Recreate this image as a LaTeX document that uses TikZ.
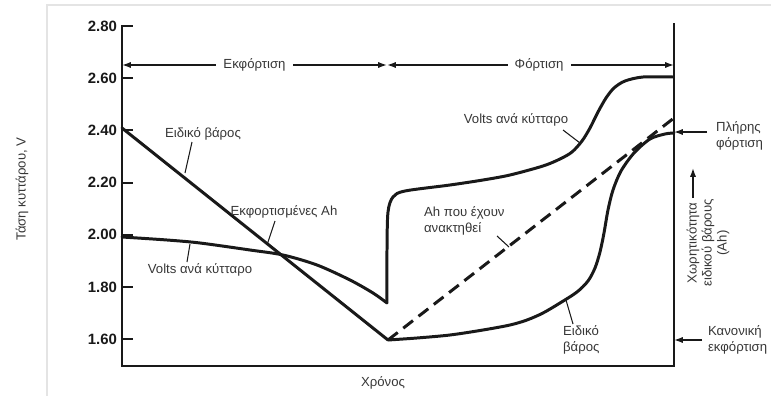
\documentclass[tikz,border=0pt]{standalone}
\usepackage{fontspec}
\setmainfont{Liberation Sans}
\usetikzlibrary{arrows.meta,calc}
\definecolor{ink}{RGB}{25,25,25}
\definecolor{labelgray}{RGB}{55,55,55}
\definecolor{framegray}{RGB}{228,228,228}

\begin{document}
\begin{tikzpicture}[x=0.2mm,y=-0.2mm,font=\fontsize{7.5}{9.5}\selectfont,
  axis/.style={draw=ink,line width=1.1pt},
  curve/.style={draw=ink,line width=1.7pt,line cap=round,line join=round},
  leader/.style={draw=ink,line width=0.6pt},
  ticklbl/.style={font=\fontsize{8.5}{9}\selectfont\bfseries,text=ink,anchor=east,inner sep=1pt},
  lbl/.style={text=labelgray,inner sep=1pt,align=left},
  span/.style={draw=ink,line width=0.8pt,{Latex[length=5pt,width=3.5pt]}-{Latex[length=5pt,width=3.5pt]}},
  pointer/.style={draw=ink,line width=0.8pt,-{Latex[length=5pt,width=3.5pt]}}]

\useasboundingbox (0,0) rectangle (771,396);
\draw[framegray,line width=0.8pt] (47,396) -- (47,5) -- (771,5);

% axes and ticks
\draw[axis] (122,25) -- (122,366) -- (674,366) -- (674,23);
\foreach \v [count=\i from 0] in {2.80,2.60,2.40,2.20,2.00,1.80,1.60} {
  \draw[axis] (122,26+52.2*\i) -- (133,26+52.2*\i);
  \node[ticklbl] (t\i) at (119,26+52.2*\i) {\v};
}
\node[lbl,rotate=90] (ylab) at (22,189) {Τάση κυττάρου, V};
\node[lbl] (xlab) at (383,383) {Χρόνος};

% discharge / charge spans
\coordinate (dL) at (122,65);
\coordinate (sw) at (387,65);
\coordinate (cR) at (674,65);
\draw[span] (dL) -- node[fill=white,inner xsep=4pt,text=labelgray] (dis) {Εκφόρτιση} (sw);
\draw[span] (sw) -- node[pos=0.53,fill=white,inner xsep=4pt,text=labelgray] (chg) {Φόρτιση} (cR);

% specific gravity
\draw[curve] (122,128) -- (388,340);
\draw[curve] plot[smooth] coordinates {(388,340) (417,338) (450,335) (483,330) (510,325)
  (527,320) (543,313) (560,303) (577,292) (588,281) (595,268) (600,252) (604,233)
  (608,210) (613,190) (621,171) (634,153) (650,139) (665,134) (674,133)};

% volts per cell
\draw[curve] plot[smooth] coordinates {(122,237) (167,240) (200,243) (250,250) (283,255)
  (317,265) (350,280) (373,293) (387,303)};
\draw[curve] plot[smooth] coordinates {(387,303) (387,250) (388,212) (393,197) (405,191)
  (450,185) (483,180) (510,175) (543,166) (560,159) (572,152) (582,141) (590,128)
  (598,112) (606,98) (614,88) (625,81) (643,77) (673,77)};

% Ah recovered
\draw[curve,dash pattern=on 7pt off 4pt,line cap=butt] (388,340) -- (674,118);

% labels with leaders
\node[lbl] (sgA) at (203,134) {Ειδικό βάρος};
\coordinate (sgA1) at (192,142);
\coordinate (sgA2) at (185,173);
\draw[leader] (sgA1) -- (sgA2);

\node[lbl] (vpA) at (200,270) {Volts ανά κύτταρο};
\coordinate (vpA1) at (190,244);
\coordinate (vpA2) at (187,262);
\draw[leader] (vpA1) -- (vpA2);

\node[lbl] (ahD) at (284,212) {Εκφορτισμένες Ah};
\coordinate (ahD1) at (275,221);
\coordinate (ahD2) at (267,245);
\draw[leader] (ahD1) -- (ahD2);

\node[lbl,anchor=west] (ahR) at (422,221) {Ah που έχουν\\ανακτηθεί};
\coordinate (ahR1) at (497,236);
\coordinate (ahR2) at (509,247);
\draw[leader] (ahR1) -- (ahR2);

\node[lbl] (vpB) at (516,120) {Volts ανά κύτταρο};
\coordinate (vpB1) at (563,130);
\coordinate (vpB2) at (580,143);
\draw[leader] (vpB1) -- (vpB2);

\node[lbl,anchor=west] (sgB) at (561,340) {Ειδικό\\βάρος};
\coordinate (sgB1) at (566,300);
\coordinate (sgB2) at (573,324);
\draw[leader] (sgB1) -- (sgB2);

% right side
\node[lbl,anchor=west] (full) at (714,136) {Πλήρης\\φόρτιση};
\coordinate (full1) at (707,132);
\coordinate (full2) at (674,132);
\draw[pointer] (full1) -- (full2);

\node[lbl,anchor=west] (norm) at (706,340) {Κανονική\\εκφόρτιση};
\coordinate (norm1) at (702,340);
\coordinate (norm2) at (674,340);
\draw[pointer] (norm1) -- (norm2);

\coordinate (up1) at (693,198);
\coordinate (up2) at (693,168);
\draw[pointer] (up1) -- (up2);
\node[lbl,rotate=90,align=center,font=\fontsize{7.5}{8.5}\selectfont] (cap) at (708,243)
  {Χωρητικότητα\\ειδικού βάρους\\(Ah)};
\end{tikzpicture}
\end{document}
